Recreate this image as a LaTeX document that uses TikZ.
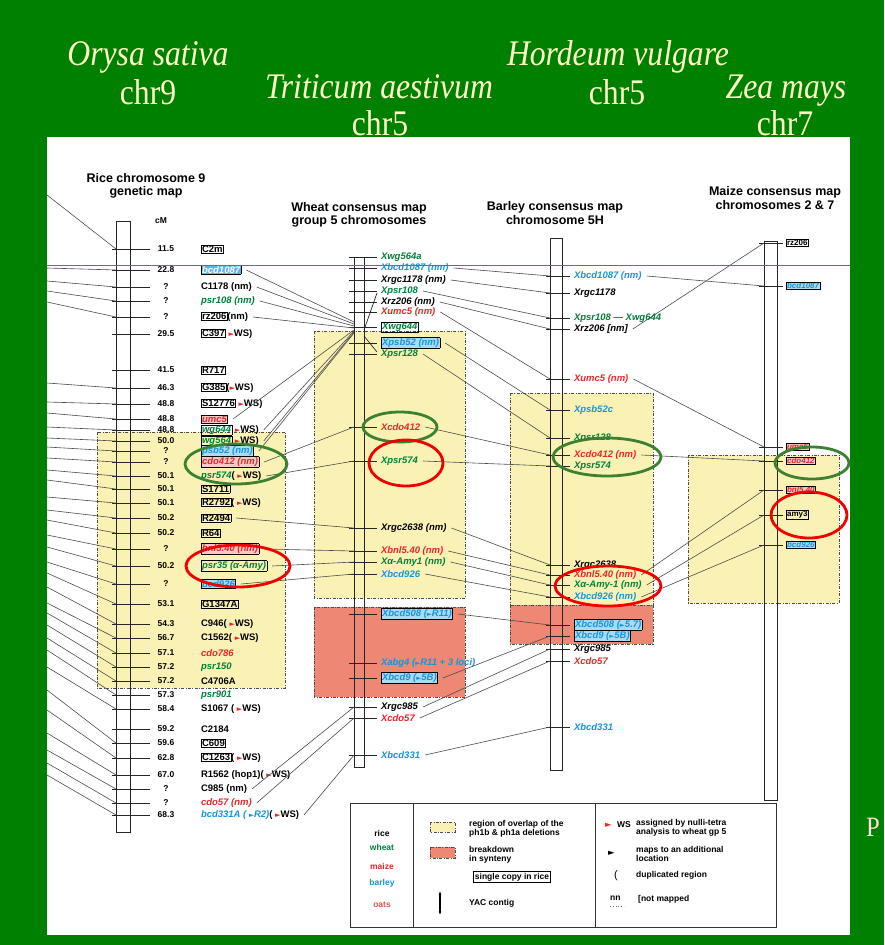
\documentclass[tikz,border=0pt]{standalone}
\usepackage{fontspec}
\setmainfont{Liberation Serif}
\newfontfamily\titfont[FakeStretch=0.88]{Liberation Serif}
\newfontfamily\labfont{Liberation Sans}
\newfontfamily\symfont{DejaVu Sans}
\usetikzlibrary{arrows.meta}
\definecolor{slidegreen}{RGB}{0,128,0}
\definecolor{titcol}{RGB}{255,255,200}
\definecolor{wgreen}{RGB}{0,130,60}
\definecolor{mred}{RGB}{230,40,40}
\definecolor{bblue}{RGB}{20,150,220}
\definecolor{yfill}{RGB}{250,242,180}
\definecolor{pfill}{RGB}{238,135,115}
\definecolor{ellg}{RGB}{60,128,50}
\definecolor{ellr}{RGB}{240,0,0}
\setlength\fboxsep{0.5pt}
\setlength\fboxrule{0.6pt}
\newcommand\labf{\labfont\bfseries\fontsize{9.5}{10}\selectfont}
\newcommand\wsarr{{\symfont\fontsize{7}{8}\selectfont\color{mred}►}}
\newcommand\marr{{\symfont\fontsize{6.5}{8}\selectfont►}}
\newcommand\BxK[1]{\fbox{#1}}
\newcommand\BxB[1]{\fcolorbox{black}{bblue!35}{\color{bblue}\itshape #1}}
\newcommand\BxR[1]{\fcolorbox{black}{mred!25}{\color{mred}\itshape #1}}
\newcommand\BxG[1]{\fbox{\color{wgreen}\itshape #1}}
\newcommand\Gt[1]{\textcolor{wgreen}{\itshape #1}}
\newcommand\Rt[1]{\textcolor{mred}{\itshape #1}}
\newcommand\Bt[1]{\textcolor{bblue}{\itshape #1}}
\newcommand\Kt[1]{{\itshape #1}}
\newcommand\RiceRow[4]{%
  \draw[tk] (112,#2) -- (150,#2);
  \node[num] (#1n) at (166,#2) {#3};
  \node[lab] (#1) at (200,#2) {#4};
  \coordinate (#1-l) at (116,#2);
  \coordinate (#1-r) at ([xshift=4pt]#1.east);}
\newcommand\WheatRow[3]{%
  \draw[tk] (349,#2) -- (377,#2);
  \node[lab] (#1) at (380,#2) {#3};
  \coordinate (#1-l) at (354,#2);
  \coordinate (#1-r) at ([xshift=4pt]#1.east);}
\newcommand\BarleyRow[3]{%
  \draw[tk] (546,#2) -- (570,#2);
  \node[lab] (#1) at (573,#2) {#3};
  \coordinate (#1-l) at (550,#2);
  \coordinate (#1-r) at ([xshift=4pt]#1.east);}
\newcommand\MaizeRow[3]{%
  \draw[tk] (759,#2) -- (783,#2);
  \node[mlab] (#1) at (785,#2) {#3};
  \coordinate (#1-l) at (764,#2);}
\begin{document}
\begin{tikzpicture}[x=1pt,y=-1pt,
  tk/.style={draw=black!85, line width=0.7pt},
  conn/.style={draw=black!70, line width=0.6pt},
  bar/.style={draw=black!85, line width=0.8pt},
  lab/.style={anchor=west, inner sep=0.8pt, font=\labf},
  mlab/.style={anchor=west, inner sep=0.8pt, font=\labfont\bfseries\fontsize{8}{9}\selectfont},
  num/.style={inner sep=0pt, font=\labfont\bfseries\fontsize{8.5}{9}\selectfont},
  hdr/.style={inner sep=0pt, align=center, font=\labfont\bfseries\fontsize{12.5}{13.5}\selectfont},
  tit/.style={inner sep=0pt, anchor=base, text=titcol, font=\titfont\fontsize{36}{40}\selectfont},
  reg/.style={draw=black!70, dash pattern=on 3pt off 1.5pt on 0.8pt off 1.5pt, line width=0.6pt},
  yreg/.style={reg, fill=yfill},
  preg/.style={reg, fill=pfill},
  gell/.style={draw=ellg, line width=2.8pt},
  rell/.style={draw=ellr, line width=2.8pt},
  legl/.style={draw=black!80, line width=0.8pt},
  legt/.style={anchor=west, inner sep=0pt, font=\labfont\bfseries\fontsize{8.5}{9.5}\selectfont, align=left}]
\useasboundingbox (0,0) rectangle (884,945);
\fill[slidegreen] (0,0) rectangle (884,945);
\fill[white] (47,137) rectangle (850,935);
\node[anchor=base west, inner sep=0pt, text=white!88!red, font=\titfont\fontsize{28}{30}\selectfont] (pp) at (866,836) {P};

% titles
\node[tit] (t1) at (148,65) {\itshape Orysa sativa};
\node[tit] (t2) at (148,104) {chr9};
\node[tit] (t3) at (379,98) {\itshape Triticum aestivum};
\node[tit] (t4) at (380,135) {chr5};
\node[tit] (t5) at (618,65) {\itshape Hordeum vulgare};
\node[tit] (t6) at (617,104) {chr5};
\node[tit] (t7) at (786,98) {\itshape Zea mays};
\node[tit] (t8) at (785,135) {chr7};

% regions
\draw[yreg] (97,432) rectangle (285,688);
\draw[yreg] (314,331) rectangle (465,598);
\draw[preg] (314,607) rectangle (465,697);
\draw[yreg] (510,393) rectangle (653,605);
\draw[preg] (510,605) rectangle (653,644);
\draw[yreg] (688,455) rectangle (839,603);

% column headers
\node[hdr] (hr) at (146,186) {Rice chromosome 9\\genetic map};
\node[num] (cm) at (161,221) {cM};
\node[hdr] (hw) at (359,215) {Wheat consensus map\\group 5 chromosomes};
\node[hdr] (hb) at (555,213) {Barley consensus map\\chromosome 5H};
\node[hdr] (hm) at (775,198) {Maize consensus map\\chromosomes 2 \& 7};

% chromosome bars
\draw[bar] (116,221) rectangle (130,832);
\draw[bar] (354,257) rectangle (364,767);
\draw[bar] (550,238) rectangle (562,770);
\draw[bar] (764,241) rectangle (777,800);

% rice
\RiceRow{r1}{249}{11.5}{\BxK{C2m}}
\RiceRow{r2}{270}{22.8}{\fcolorbox{black}{bblue!70}{\color{white}\itshape bcd1087}}
\RiceRow{r3}{287}{?}{C1178 (nm)}
\RiceRow{r4}{301}{?}{\Gt{psr108 (nm)}}
\RiceRow{r5}{317}{?}{\BxK{rz206}(nm)}
\RiceRow{r6}{334}{29.5}{\BxK{C397} \wsarr WS)}
\RiceRow{r7}{370}{41.5}{\BxK{R717}}
\RiceRow{r8}{388}{46.3}{\BxK{G385}(\wsarr WS)}
\RiceRow{r9}{404}{48.8}{\BxK{S12776} \wsarr WS)}
\RiceRow{r10}{419}{48.8}{\BxR{umc5}}
\RiceRow{r11}{430}{48.8}{\BxG{wg644} \wsarr WS)}
\RiceRow{r12}{441}{50.0}{\BxG{wg564} \wsarr WS)}
\RiceRow{r13}{451}{?}{\BxB{psb52 (nm)}}
\RiceRow{r14}{462}{?}{\BxR{cdo412 (nm)}}
\RiceRow{r15}{476}{50.1}{\Gt{psr574}( \wsarr WS)}
\RiceRow{r16}{489}{50.1}{\BxK{S1711}}
\RiceRow{r17}{503}{50.1}{\BxK{R2792}( \wsarr WS)}
\RiceRow{r18}{518}{50.2}{\BxK{R2494}}
\RiceRow{r19}{533}{50.2}{\BxK{R64}}
\RiceRow{r20}{549}{?}{\BxR{bnl5.40 (nm)}}
\RiceRow{r21}{566}{50.2}{\BxG{psr35 (α-Amy)}}
\RiceRow{r22}{584}{?}{\BxB{bcd926}}
\RiceRow{r23}{604}{53.1}{\BxK{G1347A}}
\RiceRow{r24}{624}{54.3}{C946( \wsarr WS)}
\RiceRow{r25}{638}{56.7}{C1562( \wsarr WS)}
\RiceRow{r26}{653}{57.1}{\Rt{cdo786}}
\RiceRow{r27}{667}{57.2}{\Gt{psr150}}
\RiceRow{r28}{681}{57.2}{C4706A}
\RiceRow{r29}{695}{57.3}{\Gt{psr901}}
\RiceRow{r30}{709}{58.4}{S1067 ( \wsarr WS)}
\RiceRow{r31}{729}{59.2}{C2184}
\RiceRow{r32}{743}{59.6}{\BxK{C609}}
\RiceRow{r33}{758}{62.8}{\BxK{C1263}( \wsarr WS)}
\RiceRow{r34}{775}{67.0}{R1562 (hop1)( \wsarr WS)}
\RiceRow{r35}{789}{?}{C985 (nm)}
\RiceRow{r36}{803}{?}{\Rt{cdo57 (nm)}}
\RiceRow{r37}{815}{68.3}{\Bt{bcd331A ( \marr R2)}( \wsarr WS)}

% wheat
\WheatRow{w1}{257}{\Gt{Xwg564a}}
\WheatRow{w2}{268}{\Bt{Xbcd1087 (nm)}}
\WheatRow{w3}{280}{\Kt{Xrgc1178 (nm)}}
\WheatRow{w4}{291}{\Gt{Xpsr108}}
\WheatRow{w5}{302}{\Kt{Xrz206 (nm)}}
\WheatRow{w6}{312}{\Rt{Xumc5 (nm)}}
\WheatRow{w7}{327}{\BxG{Xwg644}}
\WheatRow{w8}{343}{\BxB{Xpsb52 (nm)}}
\WheatRow{w9}{354}{\Gt{Xpsr128}}
\WheatRow{w10}{427}{\Rt{Xcdo412}}
\WheatRow{w11}{461}{\Gt{Xpsr574}}
\WheatRow{w12}{528}{\Kt{Xrgc2638 (nm)}}
\WheatRow{w13}{551}{\Rt{Xbnl5.40 (nm)}}
\WheatRow{w14}{562}{\Gt{Xα-Amy1 (nm)}}
\WheatRow{w15}{574}{\Bt{Xbcd926}}
\WheatRow{w16}{614}{\BxB{Xbcd508 (\marr R11)}}
\WheatRow{w17}{663}{\Bt{Xabg4 (\marr R11 + 3 loci)}}
\WheatRow{w18}{678}{\BxB{Xbcd9 (\marr 5B)}}
\WheatRow{w19}{707}{\Kt{Xrgc985}}
\WheatRow{w20}{718}{\Rt{Xcdo57}}
\WheatRow{w21}{755}{\Bt{Xbcd331}}
\draw[tk] (364,330) -- (377,293);
\draw[tk] (364,336) -- (377,352);

% barley
\BarleyRow{b1}{276}{\Bt{Xbcd1087 (nm)}}
\BarleyRow{b2}{293}{\Kt{Xrgc1178}}
\BarleyRow{b3}{318}{\Gt{Xpsr108 — Xwg644}}
\BarleyRow{b4}{329}{\Kt{Xrz206 [nm]}}
\BarleyRow{b5}{379}{\Rt{Xumc5 (nm)}}
\BarleyRow{b6}{410}{\Bt{Xpsb52c}}
\BarleyRow{b7}{438}{\Gt{Xpsr128}}
\BarleyRow{b8}{455}{\Rt{Xcdo412 (nm)}}
\BarleyRow{b9}{466}{\Gt{Xpsr574}}
\BarleyRow{b10}{565}{\Kt{Xrgc2638}}
\BarleyRow{b11}{575}{\Rt{Xbnl5.40 (nm)}}
\BarleyRow{b12}{585}{\Gt{Xα-Amy-1 (nm)}}
\BarleyRow{b13}{597}{\Bt{Xbcd926 (nm)}}
\BarleyRow{b14}{625}{\BxB{Xbcd508 (\marr 5.7)}}
\BarleyRow{b15}{636}{\BxB{Xbcd9 (\marr 5B)}}
\BarleyRow{b16}{649}{\Kt{Xrgc985}}
\BarleyRow{b17}{661}{\Rt{Xcdo57}}
\BarleyRow{b18}{727}{\Bt{Xbcd331}}

% maize
\MaizeRow{m1}{243}{\BxK{rz206}}
\MaizeRow{m2}{286}{\BxB{bcd1087}}
\MaizeRow{m3}{447}{\BxR{umc5}}
\MaizeRow{m4}{461}{\BxR{cdo412}}
\MaizeRow{m5}{490}{\BxR{bnl5.40}}
\MaizeRow{m6}{515}{\BxK{amy3}}
\MaizeRow{m7}{545}{\BxB{bcd926}}

% lines from the left edge to rice
\foreach \ly/\rn in {195/r1,268/r2,281/r3,291/r4,302/r5,383/r8,402/r9,413/r10,427/r11,438/r12,447/r13,458/r14,470/r15,480/r16,497/r17,510/r18,520/r19,535/r20,547/r21,562/r22,573/r23,587/r24,603/r25,613/r26,625/r27,638/r28,650/r29,667/r30,690/r32,710/r33,733/r34,750/r35,763/r36,775/r37}
  \draw[conn] (47,\ly) -- (\rn-l);

% rice -> wheat
\coordinate (wk1) at (354,322);
\coordinate (wk2) at (354,324);
\coordinate (wk3) at (354,326);
\coordinate (wk4) at (354,328);
\coordinate (wk5) at (354,330);
\coordinate (wk6) at (354,331);
\coordinate (wk7) at (354,332);
\coordinate (wk8) at (354,333);
\foreach \a/\b in {r2/wk1,r3/wk2,r4/wk3,r5/wk4,r10/wk5,r11/wk6,r12/wk7,r13/wk8,r14/w10-l,r15/w11-l,r18/w12-l,r20/w13-l,r21/w14-l,r22/w15-l,r35/w19-l,r36/w20-l,r37/w21-l}
  \draw[conn] (\a-r) -- (\b);

% wheat -> barley
\foreach \a/\b in {w2/b1,w3/b2,w4/b3,w5/b4,w6/b5,w8/b6,w9/b7,w10/b8,w11/b9,w12/b10,w13/b11,w14/b12,w15/b13,w16/b14,w18/b15,w19/b16,w20/b17,w21/b18}
  \draw[conn] (\a-r) -- (\b-l);

% barley -> maize
\foreach \a/\b in {b1/m2,b4/m1,b5/m3,b8/m4,b11/m5,b12/m6,b13/m7}
  \draw[conn] (\a-r) -- (\b-l);

% slide artefact line
\draw[slidegreen!80, line width=0.8pt] (47,265) -- (850,265);

% ellipses
\draw[gell] (236,464) ellipse [x radius=51pt, y radius=20pt];
\draw[gell] (400,427) ellipse [x radius=37pt, y radius=15pt];
\draw[gell] (607,457) ellipse [x radius=54pt, y radius=19pt];
\draw[gell] (812,463) ellipse [x radius=37pt, y radius=16pt];
\draw[rell] (238,566) ellipse [x radius=52pt, y radius=21pt];
\draw[rell] (406,463) ellipse [x radius=37pt, y radius=23pt];
\draw[rell] (608,586) ellipse [x radius=53pt, y radius=20pt];
\draw[rell] (809,515) ellipse [x radius=38pt, y radius=23pt];

% legend
\draw[legl] (350,803) rectangle (776,927);
\draw[legl] (413,803) -- (413,927);
\draw[legl] (595,803) -- (595,927);
\node[legt, anchor=center] (lg1) at (382,833) {rice};
\node[legt, anchor=center, text=wgreen] (lg2) at (382,847) {wheat};
\node[legt, anchor=center, text=mred] (lg3) at (382,866) {maize};
\node[legt, anchor=center, text=bblue] (lg4) at (382,883) {barley};
\node[legt, anchor=center, text=mred!80] (lg5) at (382,905) {oats};
\draw[reg, fill=yfill] (430,822) rectangle (455,832);
\node[legt] (lg6) at (469,829) {region of overlap of the\\ph1b \& ph1a deletions};
\draw[reg, fill=pfill] (430,847) rectangle (455,858);
\node[legt] (lg7) at (469,855) {breakdown\\in synteny};
\node[legt, draw=black, line width=0.7pt, inner sep=1.5pt, anchor=center] (lg8) at (512,877) {single copy in rice};
\draw[line width=1.2pt, {Latex[length=4pt]}-{Latex[length=4pt]}] (440,891) -- (440,915);
\node[legt] (lg9) at (469,903) {YAC contig};
\node[legt, text=mred] (lg10) at (605,825) {\symfont ►};
\node[legt] (lg11) at (617,825) {WS};
\node[legt] (lg12) at (636,828) {assigned by nulli-tetra\\analysis to wheat gp 5};
\node[legt] (lg13) at (608,853) {\symfont ►};
\node[legt] (lg14) at (636,854) {maps to an additional\\location};
\node[legt, font=\labfont\fontsize{11}{12}\selectfont] (lg15) at (614,876) {(};
\node[legt] (lg16) at (636,875) {duplicated region};
\node[legt] (lg17) at (610,898) {nn};
\draw[black!60, dotted, line width=0.8pt] (610,906) -- (624,906);
\node[legt] (lg18) at (638,899) {[not mapped};
\end{tikzpicture}
\end{document}
